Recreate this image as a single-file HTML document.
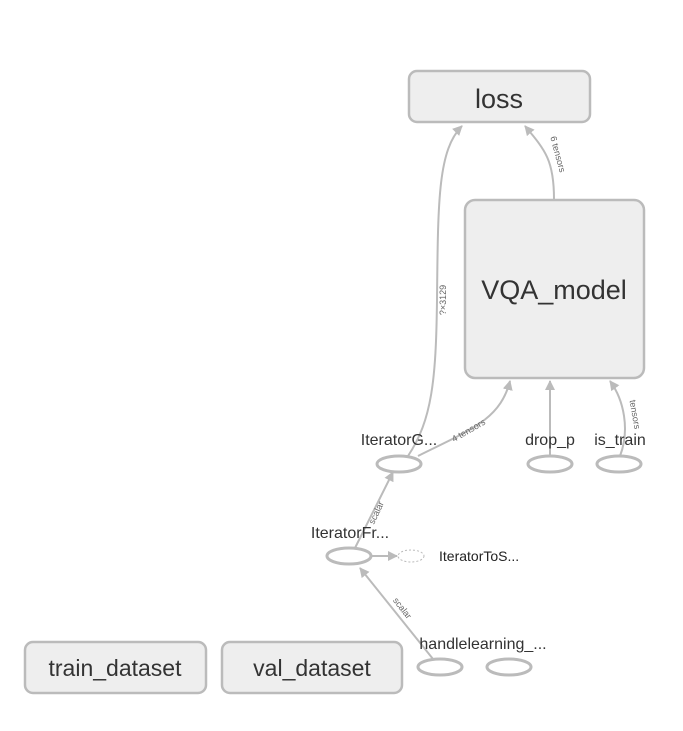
<!DOCTYPE html>
<html><head><style>
body{margin:0;background:#fff;}
svg{display:block;font-family:"Liberation Sans",sans-serif;}
</style></head><body>
<svg width="683" height="731" viewBox="0 0 683 731" xmlns="http://www.w3.org/2000/svg">
<defs>
<marker id="a" viewBox="0 0 10 10" refX="9" refY="5" markerWidth="5" markerHeight="5" orient="auto"><path d="M0,0 L10,5 L0,10 z" fill="#bbb"/></marker>
</defs>
<g fill="#eee" stroke="#bbb" stroke-width="2.5">
<rect x="409" y="71" width="181" height="51" rx="8"/>
<rect x="465" y="200" width="179" height="178" rx="10"/>
<rect x="25" y="642" width="181" height="51" rx="8"/>
<rect x="222" y="642" width="180" height="51" rx="8"/>
</g>
<g fill="#fff" stroke="#bbb" stroke-width="3">
<ellipse cx="399" cy="464" rx="22" ry="8"/>
<ellipse cx="550" cy="464" rx="22" ry="8"/>
<ellipse cx="619" cy="464" rx="22" ry="8"/>
<ellipse cx="349" cy="556" rx="22" ry="8"/>
<ellipse cx="440" cy="667" rx="22" ry="8"/>
<ellipse cx="509" cy="667" rx="22" ry="8"/>
</g>
<ellipse cx="411" cy="556" rx="13" ry="6" fill="#fff" stroke="#bbb" stroke-width="1" stroke-dasharray="2,2"/>
<g fill="none" stroke="#bbb" stroke-width="2" marker-end="url(#a)">
<path d="M408,456 C432,420 436,380 437,300 C438,200 438,150 462,126"/>
<path d="M418,456 C470,430 500,420 510,381"/>
<path d="M550,456 L550,381"/>
<path d="M620,456 C630,430 624,400 610,381"/>
<path d="M554,199 C554,160 545,150 525,126"/>
<path d="M355,548 L393,472"/>
<path d="M433,659 L360,568"/>
<path d="M372,556 L397,556"/>
</g>
<g fill="#333" text-anchor="middle">
<text x="499" y="108" font-size="27">loss</text>
<text x="554" y="299" font-size="27">VQA_model</text>
<text x="115" y="676" font-size="23">train_dataset</text>
<text x="312" y="676" font-size="23">val_dataset</text>
<text x="399" y="445" font-size="16">IteratorG...</text>
<text x="550" y="445" font-size="16">drop_p</text>
<text x="620" y="445" font-size="16">is_train</text>
<text x="350" y="538" font-size="16">IteratorFr...</text>
<text x="483" y="649" font-size="16">handlelearning_...</text>
<text x="439" y="561" font-size="14" fill="#222" text-anchor="start">IteratorToS...</text>
</g>
<g fill="#666" font-size="9" text-anchor="middle">
<text transform="translate(446,300) rotate(-90)">?×3129</text>
<text transform="translate(555,155) rotate(75)">6 tensors</text>
<text transform="translate(470,433) rotate(-30)">4 tensors</text>
<text transform="translate(632,415) rotate(80)">tensors</text>
<text transform="translate(379,514) rotate(-65)">scalar</text>
<text transform="translate(400,610) rotate(52)">scalar</text>
</g>
</svg>
</body></html>
